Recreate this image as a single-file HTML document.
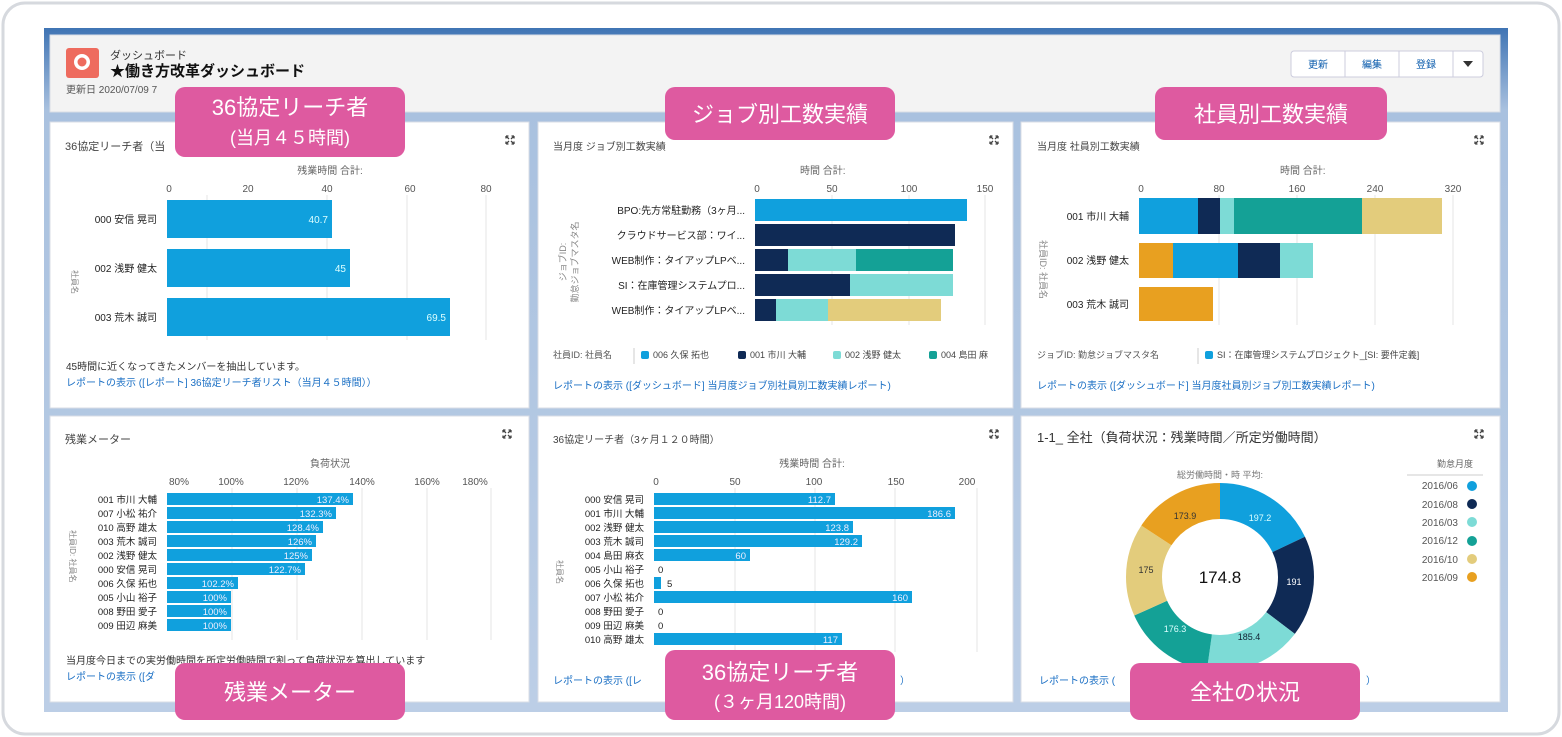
<!DOCTYPE html>
<html><head><meta charset="utf-8"><style>
html,body{margin:0;padding:0;background:#fff}
svg{display:block}
text{font-family:"Liberation Sans","Noto Sans CJK JP",sans-serif}
</style></head><body>
<svg width="1562" height="737" viewBox="0 0 1562 737" xmlns="http://www.w3.org/2000/svg">
<defs>
<linearGradient id="bg" x1="0" y1="0" x2="0" y2="1">
<stop offset="0" stop-color="#3f74b4"/><stop offset="0.12" stop-color="#a9c1df"/><stop offset="1" stop-color="#bccee6"/>
</linearGradient>
<path id="ex" d="M0 0 L3 3 M0 0 L2.5 0 M0 0 L0 2.5 M8 0 L5 3 M8 0 L5.5 0 M8 0 L8 2.5 M0 8 L3 5 M0 8 L2.5 8 M0 8 L0 5.5 M8 8 L5 5 M8 8 L5.5 8 M8 8 L8 5.5" stroke="#444" stroke-width="1.3" fill="none"/>
</defs>
<rect x="3" y="3" width="1556" height="731" rx="22" fill="#fff" stroke="#d6d9de" stroke-width="3"/>
<rect x="44" y="28" width="1464" height="684" fill="url(#bg)"/>
<!-- header -->
<rect x="50" y="35" width="1450" height="77" fill="#f3f3f3" stroke="#d8dde6"/>
<rect x="66" y="48" width="33" height="30" rx="3" fill="#ee6b5e"/>
<circle cx="82" cy="62" r="8" fill="#fff"/><circle cx="82" cy="62" r="4.5" fill="#ee6b5e"/>
<text x="110" y="59" font-size="11" fill="#333">ダッシュボード</text>
<text x="110" y="76" font-size="15" font-weight="bold" fill="#111">★働き方改革ダッシュボード</text>
<text x="66" y="93" font-size="10" fill="#555">更新日 2020/07/09 7</text>
<rect x="1291" y="51" width="192" height="26" rx="3" fill="#fff" stroke="#ccd"/>
<line x1="1345" y1="51" x2="1345" y2="77" stroke="#ccd"/><line x1="1399" y1="51" x2="1399" y2="77" stroke="#ccd"/><line x1="1453" y1="51" x2="1453" y2="77" stroke="#ccd"/>
<text x="1318" y="68" font-size="10" text-anchor="middle" fill="#0b5cad">更新</text>
<text x="1372" y="68" font-size="10" text-anchor="middle" fill="#0b5cad">編集</text>
<text x="1426" y="68" font-size="10" text-anchor="middle" fill="#0b5cad">登録</text>
<path d="M1463 61 L1473 61 L1468 67 Z" fill="#333"/>

<!-- cards -->
<g fill="#fff" stroke="#d8dde6">
<rect x="50" y="122" width="479" height="286"/>
<rect x="538" y="122" width="475" height="286"/>
<rect x="1021" y="122" width="479" height="286"/>
<rect x="50" y="416" width="479" height="286"/>
<rect x="538" y="416" width="475" height="286"/>
<rect x="1021" y="416" width="479" height="286"/>
</g>
<use href="#ex" x="506" y="136"/><use href="#ex" x="990" y="136"/><use href="#ex" x="1475" y="136"/>
<use href="#ex" x="503" y="430"/><use href="#ex" x="990" y="430"/><use href="#ex" x="1475" y="430"/>

<!-- Card1 -->
<text x="65" y="150" font-size="11" fill="#444">36協定リーチ者（当</text>
<text x="330" y="174" font-size="10" fill="#666" text-anchor="middle">残業時間 合計:</text>
<g stroke="#e5e5e5"><line x1="207" y1="195" x2="207" y2="340"/><line x1="327" y1="195" x2="327" y2="340"/><line x1="407" y1="195" x2="407" y2="340"/><line x1="486" y1="195" x2="486" y2="340"/></g>
<g font-size="10" fill="#555" text-anchor="middle"><text x="169" y="192">0</text><text x="248" y="192">20</text><text x="327" y="192">40</text><text x="410" y="192">60</text><text x="486" y="192">80</text></g>
<g fill="#10a0dd"><rect x="167" y="200" width="165" height="38"/><rect x="167" y="249" width="183" height="38"/><rect x="167" y="298" width="283" height="38"/></g>
<g font-size="10" fill="#dff" text-anchor="end"><text x="328" y="223">40.7</text><text x="346" y="272">45</text><text x="446" y="321">69.5</text></g>
<g font-size="10" fill="#222" text-anchor="end"><text x="157" y="223">000 安信 晃司</text><text x="157" y="272">002 浅野 健太</text><text x="157" y="321">003 荒木 誠司</text></g>
<text x="72" y="270" font-size="8" fill="#888" transform="rotate(90 72 270)">社員名</text>
<text x="66" y="370" font-size="10" fill="#333">45時間に近くなってきたメンバーを抽出しています。</text>
<text x="66" y="386" font-size="10" fill="#1a6fc4">レポートの表示 ([レポート] 36協定リーチ者リスト（当月４５時間））</text>

<!-- Card2 -->
<text x="553" y="150" font-size="10" fill="#444">当月度 ジョブ別工数実績</text>
<text x="800" y="174" font-size="10" fill="#666">時間 合計:</text>
<g stroke="#e5e5e5"><line x1="832" y1="195" x2="832" y2="325"/><line x1="909" y1="195" x2="909" y2="325"/><line x1="985" y1="195" x2="985" y2="325"/></g>
<g font-size="10" fill="#555" text-anchor="middle"><text x="757" y="192">0</text><text x="832" y="192">50</text><text x="909" y="192">100</text><text x="985" y="192">150</text></g>
<rect x="755" y="199" width="212" height="22" fill="#10a0dd"/>
<rect x="755" y="224" width="200" height="22" fill="#0f2a55"/>
<rect x="755" y="249" width="33" height="22" fill="#0f2a55"/><rect x="788" y="249" width="68" height="22" fill="#7ddbd6"/><rect x="856" y="249" width="97" height="22" fill="#14a196"/>
<rect x="755" y="274" width="95" height="22" fill="#0f2a55"/><rect x="850" y="274" width="103" height="22" fill="#7ddbd6"/>
<rect x="755" y="299" width="21" height="22" fill="#0f2a55"/><rect x="776" y="299" width="52" height="22" fill="#7ddbd6"/><rect x="828" y="299" width="113" height="22" fill="#e3cc7c"/>
<g font-size="10" fill="#222" text-anchor="end"><text x="745" y="214">BPO:先方常駐勤務（3ヶ月...</text><text x="745" y="239">クラウドサービス部：ワイ...</text><text x="745" y="264">WEB制作：タイアップLPベ...</text><text x="745" y="289">SI：在庫管理システムプロ...</text><text x="745" y="314">WEB制作：タイアップLPベ...</text></g>
<text x="566" y="262" font-size="9" fill="#888" text-anchor="middle" transform="rotate(-90 566 262)">ジョブID:</text>
<text x="578" y="262" font-size="9" fill="#888" text-anchor="middle" transform="rotate(-90 578 262)">勤怠ジョブマスタ名</text>
<text x="553" y="358" font-size="9" fill="#555">社員ID: 社員名</text>
<line x1="634" y1="348" x2="634" y2="364" stroke="#ccc"/>
<g font-size="9" fill="#444"><rect x="641" y="351" width="8" height="8" rx="2" fill="#10a0dd"/><text x="653" y="358">006 久保 拓也</text>
<rect x="738" y="351" width="8" height="8" rx="2" fill="#0f2a55"/><text x="750" y="358">001 市川 大輔</text>
<rect x="833" y="351" width="8" height="8" rx="2" fill="#7ddbd6"/><text x="845" y="358">002 浅野 健太</text>
<rect x="929" y="351" width="8" height="8" rx="2" fill="#14a196"/><text x="941" y="358">004 島田 麻</text></g>
<text x="553" y="389" font-size="10" fill="#1a6fc4">レポートの表示 ([ダッシュボード] 当月度ジョブ別社員別工数実績レポート)</text>

<!-- Card3 -->
<text x="1037" y="150" font-size="10" fill="#444">当月度 社員別工数実績</text>
<text x="1280" y="174" font-size="10" fill="#666">時間 合計:</text>
<g stroke="#e5e5e5"><line x1="1219" y1="195" x2="1219" y2="325"/><line x1="1297" y1="195" x2="1297" y2="325"/><line x1="1375" y1="195" x2="1375" y2="325"/><line x1="1453" y1="195" x2="1453" y2="325"/></g>
<g font-size="10" fill="#555" text-anchor="middle"><text x="1141" y="192">0</text><text x="1219" y="192">80</text><text x="1297" y="192">160</text><text x="1375" y="192">240</text><text x="1453" y="192">320</text></g>
<rect x="1139" y="198" width="59" height="36" fill="#10a0dd"/><rect x="1198" y="198" width="22" height="36" fill="#0f2a55"/><rect x="1220" y="198" width="14" height="36" fill="#7ddbd6"/><rect x="1234" y="198" width="128" height="36" fill="#14a196"/><rect x="1362" y="198" width="80" height="36" fill="#e3cc7c"/>
<rect x="1139" y="243" width="34" height="35" fill="#e8a020"/><rect x="1173" y="243" width="65" height="35" fill="#10a0dd"/><rect x="1238" y="243" width="42" height="35" fill="#0f2a55"/><rect x="1280" y="243" width="33" height="35" fill="#7ddbd6"/>
<rect x="1139" y="287" width="74" height="34" fill="#e8a020"/>
<g font-size="10" fill="#222" text-anchor="end"><text x="1129" y="220">001 市川 大輔</text><text x="1129" y="264">002 浅野 健太</text><text x="1129" y="308">003 荒木 誠司</text></g>
<text x="1040" y="240" font-size="9" fill="#888" transform="rotate(90 1040 240)">社員ID: 社員名</text>
<text x="1037" y="358" font-size="9" fill="#555">ジョブID: 勤怠ジョブマスタ名</text>
<line x1="1198" y1="348" x2="1198" y2="364" stroke="#ccc"/>
<rect x="1205" y="351" width="8" height="8" rx="2" fill="#10a0dd"/><text x="1217" y="358" font-size="9" fill="#444">SI：在庫管理システムプロジェクト_[SI: 要件定義]</text>
<text x="1037" y="389" font-size="10" fill="#1a6fc4">レポートの表示 ([ダッシュボード] 当月度社員別ジョブ別工数実績レポート)</text>

<!-- Card4 -->
<text x="65" y="443" font-size="11" fill="#444">残業メーター</text>
<text x="330" y="467" font-size="10" fill="#666" text-anchor="middle">負荷状況</text>
<g stroke="#e5e5e5"><line x1="232" y1="488" x2="232" y2="640"/><line x1="297" y1="488" x2="297" y2="640"/><line x1="362" y1="488" x2="362" y2="640"/><line x1="427" y1="488" x2="427" y2="640"/><line x1="491" y1="488" x2="491" y2="640"/></g>
<g font-size="10" fill="#555" text-anchor="middle"><text x="179" y="485">80%</text><text x="231" y="485">100%</text><text x="296" y="485">120%</text><text x="362" y="485">140%</text><text x="427" y="485">160%</text><text x="475" y="485">180%</text></g>
<g fill="#10a0dd">
<rect x="167" y="493" width="186" height="12"/><rect x="167" y="507" width="169" height="12"/><rect x="167" y="521" width="156" height="12"/><rect x="167" y="535" width="149" height="12"/><rect x="167" y="549" width="145" height="12"/><rect x="167" y="563" width="138" height="12"/><rect x="167" y="577" width="71" height="12"/><rect x="167" y="591" width="64" height="12"/><rect x="167" y="605" width="64" height="12"/><rect x="167" y="619" width="64" height="12"/></g>
<g font-size="9.5" fill="#eef" text-anchor="end"><text x="349" y="503">137.4%</text><text x="332" y="517">132.3%</text><text x="319" y="531">128.4%</text><text x="312" y="545">126%</text><text x="308" y="559">125%</text><text x="301" y="573">122.7%</text><text x="234" y="587">102.2%</text><text x="227" y="601">100%</text><text x="227" y="615">100%</text><text x="227" y="629">100%</text></g>
<g font-size="9.5" fill="#222" text-anchor="end"><text x="157" y="503">001 市川 大輔</text><text x="157" y="517">007 小松 祐介</text><text x="157" y="531">010 高野 雄太</text><text x="157" y="545">003 荒木 誠司</text><text x="157" y="559">002 浅野 健太</text><text x="157" y="573">000 安信 晃司</text><text x="157" y="587">006 久保 拓也</text><text x="157" y="601">005 小山 裕子</text><text x="157" y="615">008 野田 愛子</text><text x="157" y="629">009 田辺 麻美</text></g>
<text x="70" y="530" font-size="8" fill="#888" transform="rotate(90 70 530)">社員ID: 社員名</text>
<text x="66" y="664" font-size="10" fill="#333">当月度今日までの実労働時間を所定労働時間で割って負荷状況を算出しています</text>
<text x="66" y="680" font-size="10" fill="#1a6fc4">レポートの表示 ([ダ</text>

<!-- Card5 -->
<text x="553" y="443" font-size="10" fill="#444">36協定リーチ者（3ヶ月１２０時間）</text>
<text x="812" y="467" font-size="10" fill="#666" text-anchor="middle">残業時間 合計:</text>
<g stroke="#e5e5e5"><line x1="735" y1="488" x2="735" y2="652"/><line x1="815" y1="488" x2="815" y2="652"/><line x1="895" y1="488" x2="895" y2="652"/><line x1="977" y1="488" x2="977" y2="652"/></g>
<g font-size="10" fill="#555" text-anchor="middle"><text x="656" y="485">0</text><text x="735" y="485">50</text><text x="814" y="485">100</text><text x="896" y="485">150</text><text x="967" y="485">200</text></g>
<g fill="#10a0dd">
<rect x="654" y="493" width="181" height="12"/><rect x="654" y="507" width="301" height="12"/><rect x="654" y="521" width="199" height="12"/><rect x="654" y="535" width="208" height="12"/><rect x="654" y="549" width="96" height="12"/><rect x="654" y="577" width="7" height="12"/><rect x="654" y="591" width="258" height="12"/><rect x="654" y="633" width="188" height="12"/></g>
<g font-size="9.5" fill="#eef" text-anchor="end"><text x="831" y="503">112.7</text><text x="951" y="517">186.6</text><text x="849" y="531">123.8</text><text x="858" y="545">129.2</text><text x="746" y="559">60</text><text x="908" y="601">160</text><text x="838" y="643">117</text></g>
<g font-size="9.5" fill="#222"><text x="658" y="573">0</text><text x="667" y="587">5</text><text x="658" y="615">0</text><text x="658" y="629">0</text></g>
<g font-size="9.5" fill="#222" text-anchor="end"><text x="644" y="503">000 安信 晃司</text><text x="644" y="517">001 市川 大輔</text><text x="644" y="531">002 浅野 健太</text><text x="644" y="545">003 荒木 誠司</text><text x="644" y="559">004 島田 麻衣</text><text x="644" y="573">005 小山 裕子</text><text x="644" y="587">006 久保 拓也</text><text x="644" y="601">007 小松 祐介</text><text x="644" y="615">008 野田 愛子</text><text x="644" y="629">009 田辺 麻美</text><text x="644" y="643">010 高野 雄太</text></g>
<text x="557" y="560" font-size="8" fill="#888" transform="rotate(90 557 560)">社員名</text>
<text x="553" y="684" font-size="10" fill="#1a6fc4">レポートの表示 ([レ</text>
<text x="900" y="684" font-size="10" fill="#1a6fc4">）</text>

<!-- Card6 -->
<text x="1037" y="442" font-size="13" fill="#333">1-1_ 全社（負荷状況：残業時間／所定労働時間）</text>
<text x="1220" y="478" font-size="9" fill="#777" text-anchor="middle">総労働時間・時 平均:</text>
<g fill="none" stroke-width="36" transform="rotate(-90 1220 577)">
<circle cx="1220" cy="577" r="76" stroke="#10a0dd" stroke-dasharray="85.7 477.5" stroke-dashoffset="0"/>
<circle cx="1220" cy="577" r="76" stroke="#0f2a55" stroke-dasharray="83.0 477.5" stroke-dashoffset="-85.7"/>
<circle cx="1220" cy="577" r="76" stroke="#7ddbd6" stroke-dasharray="80.6 477.5" stroke-dashoffset="-168.7"/>
<circle cx="1220" cy="577" r="76" stroke="#14a196" stroke-dasharray="76.6 477.5" stroke-dashoffset="-249.3"/>
<circle cx="1220" cy="577" r="76" stroke="#e3cc7c" stroke-dasharray="76.1 477.5" stroke-dashoffset="-325.9"/>
<circle cx="1220" cy="577" r="76" stroke="#e8a020" stroke-dasharray="75.6 477.5" stroke-dashoffset="-402.0"/>
</g>
<text x="1220" y="583" font-size="17" fill="#111" text-anchor="middle">174.8</text>
<g font-size="9" text-anchor="middle"><text x="1260" y="521" fill="#dff">197.2</text><text x="1294" y="585" fill="#fff">191</text><text x="1249" y="640" fill="#123">185.4</text><text x="1175" y="632" fill="#dff">176.3</text><text x="1146" y="573" fill="#333">175</text><text x="1185" y="519" fill="#333">173.9</text></g>
<text x="1455" y="467" font-size="9" fill="#666" text-anchor="middle">勤怠月度</text>
<line x1="1407" y1="475" x2="1483" y2="475" stroke="#ccc"/>
<g font-size="10" fill="#555" text-anchor="end"><text x="1458" y="489">2016/06</text><text x="1458" y="508">2016/08</text><text x="1458" y="526">2016/03</text><text x="1458" y="544">2016/12</text><text x="1458" y="563">2016/10</text><text x="1458" y="581">2016/09</text></g>
<circle cx="1472" cy="486" r="5" fill="#10a0dd"/><circle cx="1472" cy="504" r="5" fill="#0f2a55"/><circle cx="1472" cy="522" r="5" fill="#7ddbd6"/><circle cx="1472" cy="541" r="5" fill="#14a196"/><circle cx="1472" cy="559" r="5" fill="#e3cc7c"/><circle cx="1472" cy="577" r="5" fill="#e8a020"/>
<text x="1039" y="684" font-size="10" fill="#1a6fc4">レポートの表示 (</text>
<text x="1366" y="684" font-size="10" fill="#1a6fc4">）</text>

<!-- pink labels -->
<g fill="#de5aa0">
<rect x="175" y="87" width="230" height="70" rx="10"/>
<rect x="665" y="87" width="230" height="53" rx="10"/>
<rect x="1155" y="87" width="232" height="53" rx="10"/>
<rect x="175" y="663" width="230" height="57" rx="10"/>
<rect x="665" y="650" width="230" height="70" rx="10"/>
<rect x="1130" y="663" width="230" height="57" rx="10"/>
</g>
<g fill="#fff" text-anchor="middle">
<text x="290" y="115" font-size="22">36協定リーチ者</text>
<text x="290" y="144" font-size="18">(当月４５時間)</text>
<text x="780" y="122" font-size="22">ジョブ別工数実績</text>
<text x="1271" y="122" font-size="22">社員別工数実績</text>
<text x="290" y="700" font-size="22">残業メーター</text>
<text x="780" y="680" font-size="22">36協定リーチ者</text>
<text x="780" y="708" font-size="18">(３ヶ月120時間)</text>
<text x="1245" y="700" font-size="22">全社の状況</text>
</g>
</svg>
</body></html>
